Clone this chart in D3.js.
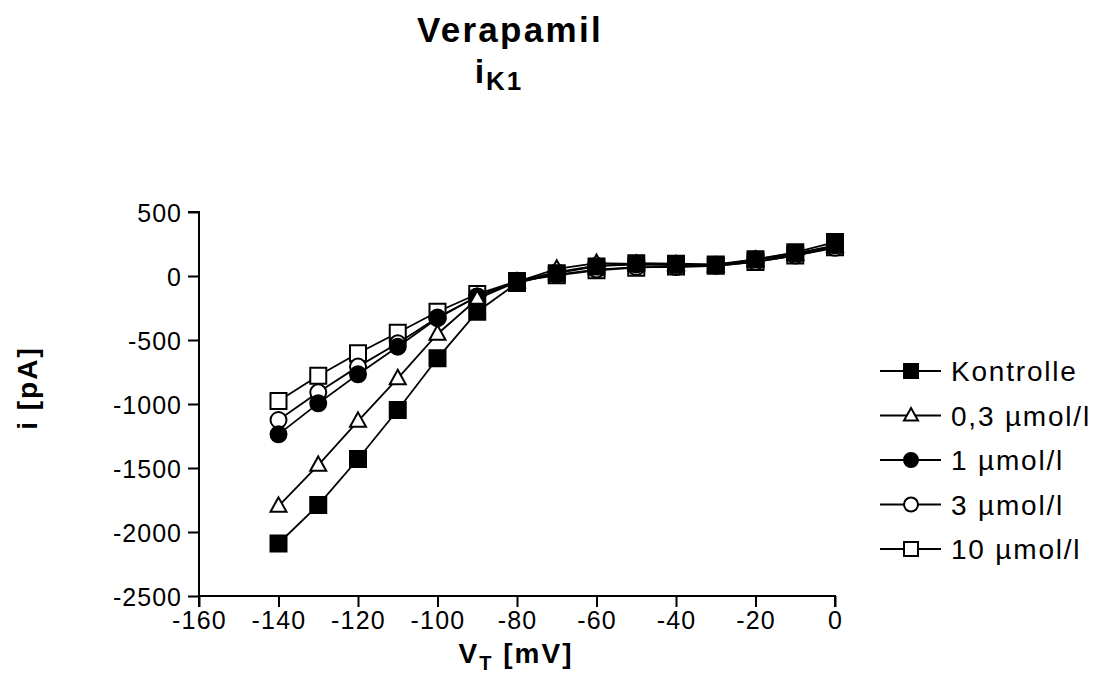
<!DOCTYPE html>
<html>
<head>
<meta charset="utf-8">
<script src="https://cdn.jsdelivr.net/npm/d3@7"></script>
<style>
  html, body { margin: 0; padding: 0; background: #fff; }
  svg { display: block; font-family: Arial, "Liberation Sans", sans-serif; }
</style>
</head>
<body>
<svg id="chart" width="1098" height="691"></svg>
<script>
// ---- data ----
const voltages = [-140, -130, -120, -110, -100, -90, -80, -70, -60, -50, -40, -30, -20, -10, 0];
const kontrolle = [-2090, -1790, -1430, -1047, -643, -279, -55, 22, 75, 100, 96, 90, 130, 185, 265];
const vera03    = [-1797, -1477, -1133, -800, -453, -180, -45, 55, 100, 95, 90, 80, 125, 170, 235];
const vera1     = [-1237, -995, -768, -552, -330, -160, -40, 30, 80, 90, 85, 85, 130, 175, 240];
const vera3     = [-1125, -909, -708, -526, -325, -160, -45, 10, 50, 70, 70, 80, 110, 160, 220];
const vera10    = [-977, -779, -604, -443, -279, -141, -40, 5, 45, 65, 75, 80, 110, 160, 225];
const seriesNames = ["Kontrolle", "0,3 µmol/l", "1 µmol/l", "3 µmol/l", "10 µmol/l"];
const seriesValues = [kontrolle, vera03, vera1, vera3, vera10];
const seriesMarkers = ["square", "triangle", "circle", "circle", "square"];
const seriesFilled = [true, false, true, false, false];
const xTicks = [-160, -140, -120, -100, -80, -60, -40, -20, 0];
const yTicks = [-2500, -2000, -1500, -1000, -500, 0, 500];

// ---- layout ----
const svg = d3.select("#chart");
const x = d3.scaleLinear().domain([-160, 0]).range([199, 835]);
const y = d3.scaleLinear().domain([-2500, 500]).range([596, 212]);

function markerPath(type, s) {
  const h = s / 2;
  if (type === "square") return `M${-h},${-h}H${h}V${h}H${-h}Z`;
  if (type === "circle") return `M${-h},0A${h},${h} 0 1,0 ${h},0A${h},${h} 0 1,0 ${-h},0Z`;
  const th = s * 0.9;
  return `M0,${-th * 0.6}L${h},${th * 0.4}L${-h},${th * 0.4}Z`;
}

const fmt = d => String(d); // plain hyphen-minus as in the reference

// ---- axes ----
const xAxis = d3.axisBottom(x).tickValues(xTicks).tickSize(11).tickPadding(4).tickFormat(fmt);
const yAxis = d3.axisLeft(y).tickValues(yTicks).tickSize(11).tickPadding(6).tickFormat(fmt);

const gx = svg.append("g").attr("transform", `translate(0,${y(-2500)})`).call(xAxis);
const gy = svg.append("g").attr("transform", `translate(${x(-160)},0)`).call(yAxis);
[gx, gy].forEach(g => {
  g.select(".domain").attr("stroke", "#000").attr("stroke-width", 2);
  g.selectAll(".tick line").attr("stroke", "#000").attr("stroke-width", 2);
  g.selectAll(".tick text").attr("fill", "#000").style("font-size", "25px")
    .style("font-family", "Arial, 'Liberation Sans', sans-serif");
});
gx.selectAll(".tick text").attr("dy", "0.72em").style("letter-spacing", "1.2px");
gy.selectAll(".tick text").attr("dy", "0.36em").style("letter-spacing", "1px");
gy.select(".domain").attr("d", `M-11,${y(500)}H0V${y(-2500)}`);
gx.select(".domain").attr("d", `M${x(-160)},11V0H${x(0)}V11`);

// ---- series (drawn from last to first so Kontrolle is on top) ----
const order = [4, 3, 2, 1, 0];
const line = d3.line().x(d => x(d[0])).y(d => y(d[1]));
order.forEach(i => {
  const pts = voltages.map((v, j) => [v, seriesValues[i][j]]);
  const g = svg.append("g");
  g.append("path").attr("d", line(pts)).attr("fill", "none")
    .attr("stroke", "#000").attr("stroke-width", 1.8);
  g.selectAll("path.m").data(pts).join("path").attr("class", "m")
    .attr("transform", d => `translate(${x(d[0])},${y(d[1])})`)
    .attr("d", markerPath(seriesMarkers[i], 16))
    .attr("fill", seriesFilled[i] ? "#000" : "#fff")
    .attr("stroke", "#000").attr("stroke-width", 2);
});

// ---- legend ----
const leg = svg.append("g");
seriesNames.forEach((name, i) => {
  const cy = 371 + i * 44.5;
  const r = leg.append("g").attr("transform", `translate(0,${cy})`);
  r.append("line").attr("x1", 880).attr("x2", 941).attr("y1", 0).attr("y2", 0)
    .attr("stroke", "#000").attr("stroke-width", 2);
  r.append("path").attr("transform", "translate(911,0)")
    .attr("d", markerPath(seriesMarkers[i], 14))
    .attr("fill", seriesFilled[i] ? "#000" : "#fff")
    .attr("stroke", "#000").attr("stroke-width", 2);
  r.append("text").attr("x", 951).attr("y", 0).attr("dy", "0.36em")
    .style("font-size", "28px").style("letter-spacing", "1.8px").attr("fill", "#000")
    .text(name);
});

// ---- titles ----
svg.append("text").attr("x", 510).attr("y", 42).attr("text-anchor", "middle")
  .style("font-size", "35px").style("font-weight", "bold").style("letter-spacing", "2.3px")
  .text("Verapamil");
const t2 = svg.append("text").attr("x", 499).attr("y", 83).attr("text-anchor", "middle")
  .style("font-weight", "bold").style("font-size", "34px").style("letter-spacing", "2px");
t2.append("tspan").text("i");
t2.append("tspan").attr("dy", 7).style("font-size", "26px").text("K1");

svg.append("text").attr("transform", "translate(37,388) rotate(-90)").attr("text-anchor", "middle")
  .style("font-size", "28px").style("font-weight", "bold").style("letter-spacing", "2px")
  .text("i [pA]");

const xl = svg.append("text").attr("x", 516).attr("y", 663).attr("text-anchor", "middle")
  .style("font-size", "28px").style("font-weight", "bold").style("letter-spacing", "2px");
xl.append("tspan").text("V");
xl.append("tspan").attr("dy", 7).style("font-size", "20px").text("T");
xl.append("tspan").attr("dy", -7).text(" [mV]");
</script>
</body>
</html>
